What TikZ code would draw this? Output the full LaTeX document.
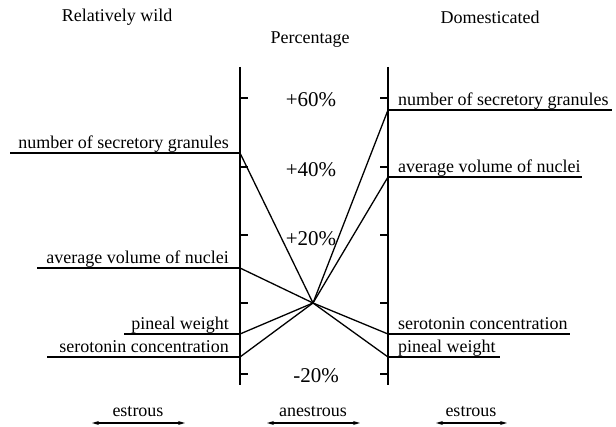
\documentclass[tikz,border=0pt]{standalone}
\usepackage{fontspec}
\setmainfont{Liberation Serif}
\usetikzlibrary{arrows.meta}
\begin{document}
\begin{tikzpicture}[x=1pt,y=-1pt,
  axis/.style={line width=1.8pt},
  tick/.style={line width=1.2pt},
  uline/.style={line width=1.4pt},
  conn/.style={line width=1.3pt},
  lbl/.style={font=\fontsize{18}{20}\selectfont, inner sep=0pt},
  title/.style={font=\fontsize{18}{20}\selectfont, inner sep=0pt},
  pct/.style={font=\fontsize{21}{23}\selectfont, inner sep=0pt},
  phase/.style={line width=1.4pt, {Stealth[length=7pt,width=4pt]}-{Stealth[length=7pt,width=4pt]}}
]
\useasboundingbox (0,0) rectangle (616,427);
% titles
\node[title] (tw) at (117,17) {Relatively wild};
\node[title] (tp) at (310,40) {Percentage};
\node[title] (td) at (490,17) {Domesticated};
% axes
\coordinate (LT) at (240,67); \coordinate (LB) at (240,385);
\coordinate (RT) at (388,67); \coordinate (RB) at (388,385);
\draw[axis] (LT) -- (LB);
\draw[axis] (RT) -- (RB);
\foreach \yy in {98,167,235,303,374}{
  \draw[tick] (240,\yy) -- (248,\yy);
  \draw[tick] (388,\yy) -- (380,\yy);
}
% percent labels
\node[pct] (p60) at (311,100) {+60\%};
\node[pct] (p40) at (311,170) {+40\%};
\node[pct] (p20) at (311,239) {+20\%};
\node[pct] (pm20) at (316,376) {-20\%};
% center
\coordinate (C) at (313,303);
% left side
\coordinate (Lg) at (240,153); \coordinate (Lg0) at (10,153);
\coordinate (Lv) at (240,268); \coordinate (Lv0) at (37,268);
\coordinate (Lp) at (240,334); \coordinate (Lp0) at (124,334);
\coordinate (Ls) at (240,357); \coordinate (Ls0) at (47,357);
\draw[uline] (Lg0) -- (Lg); \draw[uline] (Lv0) -- (Lv);
\draw[uline] (Lp0) -- (Lp); \draw[uline] (Ls0) -- (Ls);
\node[lbl, anchor=base east] (lg) at (229,149) {number of secretory granules};
\node[lbl, anchor=base east] (lv) at (229,264) {average volume of nuclei};
\node[lbl, anchor=base east] (lp) at (229,330) {pineal weight};
\node[lbl, anchor=base east] (ls) at (229,353) {serotonin concentration};
% right side
\coordinate (Rg) at (388,110); \coordinate (Rg0) at (612,110);
\coordinate (Rv) at (388,177); \coordinate (Rv0) at (582,177);
\coordinate (Rs) at (388,334); \coordinate (Rs0) at (570,334);
\coordinate (Rp) at (388,357); \coordinate (Rp0) at (500,357);
\draw[uline] (Rg) -- (Rg0); \draw[uline] (Rv) -- (Rv0);
\draw[uline] (Rs) -- (Rs0); \draw[uline] (Rp) -- (Rp0);
\node[lbl, anchor=base west] (rg) at (398,106) {number of secretory granules};
\node[lbl, anchor=base west] (rv) at (398,173) {average volume of nuclei};
\node[lbl, anchor=base west] (rs) at (398,330) {serotonin concentration};
\node[lbl, anchor=base west] (rp) at (398,353) {pineal weight};
% connectors
\foreach \p in {Lg,Lv,Lp,Ls,Rg,Rv,Rs,Rp}{ \draw[conn] (\p) -- (C); }
% phases
\node[lbl, anchor=base] (e1) at (138,417) {estrous};
\node[lbl, anchor=base] (an) at (313,417) {anestrous};
\node[lbl, anchor=base] (e2) at (471,417) {estrous};
\coordinate (a1) at (92,423); \coordinate (b1) at (185,423);
\coordinate (a2) at (267,423); \coordinate (b2) at (360,423);
\coordinate (a3) at (436,423); \coordinate (b3) at (507,423);
\draw[phase] (a1) -- (b1);
\draw[phase] (a2) -- (b2);
\draw[phase] (a3) -- (b3);
\end{tikzpicture}
\end{document}
